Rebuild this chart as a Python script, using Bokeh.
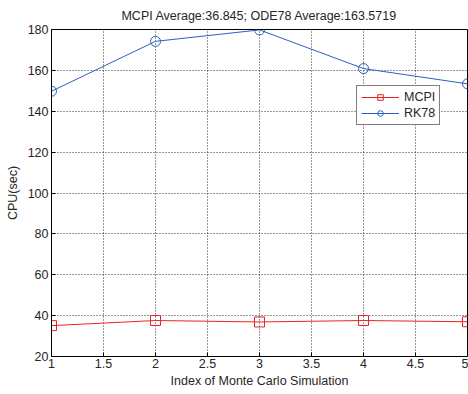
from bokeh.plotting import figure
from bokeh.models import Range1d, FixedTicker, Legend, LegendItem
from bokeh.embed import file_html
from bokeh.resources import INLINE

sim_index = [1, 2, 3, 4, 5]
mcpi_cpu = [35.1, 37.6, 36.9, 37.6, 37.0]
rk78_cpu = [149.8, 174.2, 179.8, 160.9, 153.4]
x_ticks = [1, 1.5, 2, 2.5, 3, 3.5, 4, 4.5, 5]
x_tick_labels = ["1", "1.5", "2", "2.5", "3", "3.5", "4", "4.5", "5"]
y_ticks = [20, 40, 60, 80, 100, 120, 140, 160, 180]
title_text = "MCPI Average:36.845; ODE78 Average:163.5719"

FONT = "Liberation Sans"
TXT = "#262626"
RED = "#f02020"
BLUE = "#2a5fc0"
FS = "12.5px"

p = figure(width=468, height=394, output_backend="svg", toolbar_location=None,
           x_range=Range1d(1, 5), y_range=Range1d(20, 180),
           min_border_left=51, min_border_right=1, min_border_top=29, min_border_bottom=38,
           background_fill_color="white", border_fill_color="white")

p.title.text = title_text
p.title.align = "center"
p.title.text_font = FONT
p.title.text_font_size = FS
p.title.text_font_style = "normal"
p.title.text_color = TXT
p.title.standoff = 13

p.outline_line_color = "black"
p.outline_line_width = 1
p.outline_line_alpha = 1

for ax in (p.xaxis[0], p.yaxis[0]):
    ax.axis_line_color = "black"
    ax.major_tick_in = 4
    ax.major_tick_out = 0
    ax.minor_tick_in = 0
    ax.minor_tick_out = 0
    ax.major_tick_line_color = "black"
    ax.major_label_text_font = FONT
    ax.major_label_text_font_size = FS
    ax.major_label_text_color = TXT
    ax.axis_label_text_font = FONT
    ax.axis_label_text_font_size = FS
    ax.axis_label_text_font_style = "normal"
    ax.axis_label_text_color = TXT

p.xaxis.ticker = FixedTicker(ticks=x_ticks)
p.xaxis.major_label_overrides = {t: l for t, l in zip(x_ticks, x_tick_labels)}
p.yaxis.ticker = FixedTicker(ticks=y_ticks)
p.xaxis.axis_label = "Index of Monte Carlo Simulation"
p.yaxis.axis_label = "CPU(sec)"
p.xaxis.major_label_standoff = 2
p.yaxis.major_label_standoff = 3
p.xaxis.axis_label_standoff = 3
p.yaxis.axis_label_standoff = 5

p.xgrid.grid_line_color = "black"
p.ygrid.grid_line_color = "black"
p.xgrid.grid_line_dash = "1 2"
p.ygrid.grid_line_dash = "1 2"
p.xgrid.grid_line_alpha = 0.8
p.ygrid.grid_line_alpha = 0.8

r1 = p.line(sim_index, mcpi_cpu, line_color=RED, line_width=1)
s1 = p.scatter(sim_index, mcpi_cpu, marker="square", size=10, fill_color=None,
               line_color=RED, line_width=1)
r2 = p.line(sim_index, rk78_cpu, line_color=BLUE, line_width=1)
s2 = p.scatter(sim_index, rk78_cpu, marker="circle", size=10, fill_color=None,
               line_color=BLUE, line_width=1)

legend = Legend(items=[LegendItem(label="MCPI", renderers=[r1, s1]),
                       LegendItem(label="RK78", renderers=[r2, s2])],
                location=(305, 231))
legend.border_line_color = "black"
legend.border_line_width = 1
legend.label_text_font = FONT
legend.label_text_font_size = FS
legend.label_text_color = TXT
legend.glyph_width = 38
legend.glyph_height = 14
legend.label_height = 14
legend.spacing = 2
legend.padding = 4
legend.margin = 0
legend.label_standoff = 5
legend.background_fill_alpha = 1
p.add_layout(legend, "center")

open("out.html", "w").write(file_html(p, INLINE))
